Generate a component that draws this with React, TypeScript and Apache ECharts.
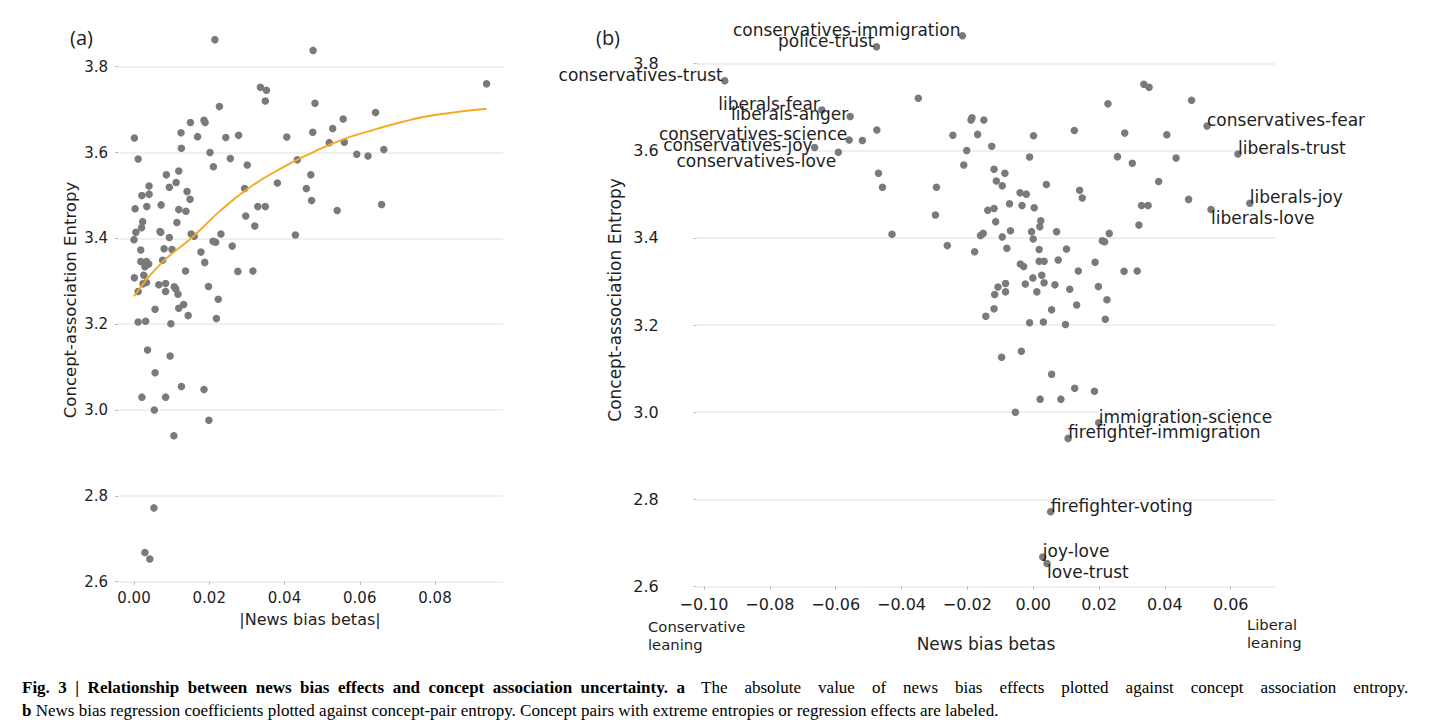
import React, { useEffect, useRef } from 'react';
import * as echarts from 'echarts';

// ---------- data ----------
// Labeled concept pairs (panel b), news bias beta and concept-association entropy
const labeledPairs = [
  'conservatives-immigration', 'police-trust', 'conservatives-trust', 'liberals-fear',
  'liberals-anger', 'conservatives-science', 'conservatives-joy', 'conservatives-love',
  'conservatives-fear', 'liberals-trust', 'liberals-joy', 'liberals-love',
  'immigration-science', 'firefighter-immigration', 'firefighter-voting', 'joy-love', 'love-trust',
];
const labeledBetas = [
  -0.0215, -0.0476, -0.0937, -0.0642, -0.0556, -0.0559, -0.0664, -0.0592,
  0.0528, 0.0622, 0.0658, 0.054, 0.0199, 0.0106, 0.0053, 0.0029, 0.0042,
];
const labeledEntropy = [
  3.863, 3.838, 3.76, 3.693, 3.678, 3.624, 3.607, 3.596,
  3.656, 3.592, 3.479, 3.465, 2.976, 2.94, 2.772, 2.668, 2.653,
];

// Unlabeled concept pairs
const otherBetas = [
  -0.0349, -0.0189, -0.0186, -0.015, -0.0475, -0.0244, -0.0169, 0.0001, 0.0125, 0.0227,
  0.0278, -0.0202, -0.0126, -0.0011, 0.0256, 0.0301, -0.0211, -0.047, -0.0119, -0.0086,
  -0.0458, -0.0294, -0.0112, -0.0094, 0.004, 0.0141, 0.0149, -0.004, -0.0021, -0.0072,
  -0.0034, 0.0003, -0.0138, -0.0119, -0.0297, -0.0114, 0.0023, 0.002, -0.0429, -0.016,
  -0.0152, -0.0069, -0.0005, -0.0094, 0.0, 0.0071, 0.0231, 0.021, 0.0217, -0.0261,
  -0.0178, -0.008, 0.0018, 0.0101, 0.0018, 0.0033, 0.0076, -0.0039, -0.0029, 0.0188,
  0.0137, 0.0276, 0.0316, 0.0026, -0.0001, 0.0033, -0.0024, 0.0066, -0.0084, -0.0107,
  -0.0084, -0.0117, 0.0011, 0.0111, 0.0198, 0.0224, 0.0132, 0.0056, -0.0119, -0.0144,
  -0.0011, 0.0031, 0.0098, 0.0219, -0.0096, -0.0036, 0.0056, 0.0126, 0.0186, 0.0021,
  0.0084, -0.0054, 0.0336, 0.0352, 0.0481, 0.0406, 0.0434, 0.0381, 0.0329, 0.0349,
  0.0472, 0.0321, -0.0519,
];
const otherEntropy = [
  3.72, 3.67, 3.675, 3.67, 3.647, 3.635, 3.637, 3.634, 3.646, 3.707,
  3.64, 3.6, 3.61, 3.585, 3.586, 3.571, 3.567, 3.548, 3.557, 3.548,
  3.516, 3.516, 3.53, 3.519, 3.522, 3.509, 3.491, 3.503, 3.5, 3.478,
  3.474, 3.469, 3.463, 3.467, 3.452, 3.437, 3.439, 3.425, 3.408, 3.405,
  3.41, 3.416, 3.414, 3.402, 3.397, 3.414, 3.41, 3.393, 3.391, 3.382,
  3.368, 3.376, 3.373, 3.374, 3.346, 3.346, 3.349, 3.34, 3.334, 3.344,
  3.324, 3.323, 3.324, 3.314, 3.308, 3.297, 3.294, 3.292, 3.295, 3.287,
  3.276, 3.27, 3.276, 3.282, 3.288, 3.258, 3.246, 3.235, 3.237, 3.22,
  3.205, 3.207, 3.201, 3.213, 3.126, 3.14, 3.087, 3.055, 3.048, 3.03,
  3.03, 3.0, 3.752, 3.745, 3.715, 3.636, 3.583, 3.529, 3.474, 3.474,
  3.488, 3.429, 3.623,
];

// Fitted curve in panel a
const fitX = [0.0, 0.0069, 0.0158, 0.0229, 0.0308, 0.0397, 0.0477, 0.0547, 0.0618, 0.0707, 0.0795, 0.0937];
const fitY = [3.265, 3.339, 3.405, 3.464, 3.519, 3.566, 3.601, 3.628, 3.648, 3.67, 3.687, 3.702];

// Tick labels
const absTicks = [0.0, 0.02, 0.04, 0.06, 0.08];
const betaTicks = [-0.1, -0.08, -0.06, -0.04, -0.02, 0.0, 0.02, 0.04, 0.06];

// Caption
const captionBold1 = 'Fig. 3 | Relationship between news bias effects and concept association uncertainty. a';
const captionText1 = 'The absolute value of news bias effects plotted against concept association entropy.';
const captionBold2 = 'b';
const captionText2 = 'News bias regression coefficients plotted against concept-pair entropy. Concept pairs with extreme entropies or regression effects are labeled.';

// ---------- styling ----------
const FONT = "'DejaVu Sans', sans-serif";
const SERIF = "'Liberation Serif', 'Times New Roman', serif";
const DOT = '#7a7a7a';
const GRIDLINE = '#ebebeb';
const TXT = '#1e1e1e';

// label placement: side = which side of the dot the text sits on; v = text above (bottom) or below (top)
const labelPlacement: Record<string, { side: 'L' | 'R'; v: 'bottom' | 'top'; dy: number }> = {
  'conservatives-immigration': { side: 'L', v: 'bottom', dy: 2.5 },
  'police-trust': { side: 'L', v: 'bottom', dy: 2.5 },
  'conservatives-trust': { side: 'L', v: 'bottom', dy: 2.5 },
  'liberals-fear': { side: 'L', v: 'bottom', dy: 2.5 },
  'liberals-anger': { side: 'L', v: 'bottom', dy: 6 },
  'conservatives-science': { side: 'L', v: 'bottom', dy: 2.5 },
  'conservatives-joy': { side: 'L', v: 'bottom', dy: 6 },
  'conservatives-love': { side: 'L', v: 'top', dy: 0 },
  'conservatives-fear': { side: 'R', v: 'bottom', dy: 2.5 },
  'liberals-trust': { side: 'R', v: 'bottom', dy: 2.5 },
  'liberals-joy': { side: 'R', v: 'bottom', dy: 2.5 },
  'liberals-love': { side: 'R', v: 'top', dy: 0 },
  'immigration-science': { side: 'R', v: 'bottom', dy: 2.5 },
  'firefighter-immigration': { side: 'R', v: 'bottom', dy: 2.5 },
  'firefighter-voting': { side: 'R', v: 'bottom', dy: 2.5 },
  'joy-love': { side: 'R', v: 'bottom', dy: 2.5 },
  'love-trust': { side: 'R', v: 'top', dy: 0 },
};

function fmt2(v: number): string {
  const r = Math.round(v * 100) / 100;
  if (Math.abs(v * 50 - Math.round(v * 50)) > 1e-6) return '';
  return (r < 0 ? '\u2212' : '') + Math.abs(r).toFixed(2);
}

// emulate the justified first caption line by widening word gaps
const widen = (s: string, n: number) => s.split(' ').join(' ' + '\u00a0'.repeat(n));

function buildOption(): any {
  const allBetas = [...otherBetas, ...labeledBetas];
  const allEntropy = [...otherEntropy, ...labeledEntropy];

  const panelAData = allBetas.map((b, i) => [Math.abs(b), allEntropy[i]]);
  const panelBOther = otherBetas.map((b, i) => [b, otherEntropy[i]]);
  const panelBLabeled = labeledPairs.map((name, i) => {
    const p = labelPlacement[name];
    return {
      name,
      value: [labeledBetas[i], labeledEntropy[i]],
      label: {
        show: true,
        position: 'inside',
        formatter: name,
        align: p.side === 'L' ? 'right' : 'left',
        verticalAlign: p.v,
        offset: [p.side === 'L' ? -2 : 0, p.dy],
        color: TXT,
        fontSize: 17,
        fontFamily: FONT,
        textBorderWidth: 0,
      },
    };
  });

  const yAxisBase = (gridIndex: number, fontSize: number, margin: number) => ({
    type: 'value',
    gridIndex,
    min: 2.6,
    max: 3.8,
    interval: 0.2,
    axisLine: { show: false, onZero: false },
    axisTick: { show: true, length: 3, lineStyle: { color: '#b5b5b5', width: 1 } },
    splitLine: { show: true, lineStyle: { color: GRIDLINE, width: 1.6 } },
    axisLabel: {
      formatter: (v: number) => v.toFixed(1),
      fontSize,
      fontFamily: FONT,
      color: TXT,
      margin,
    },
  });

  const text = (x: number, y: number, t: string, fontSize: number, extra: any = {}) => ({
    type: 'text',
    x,
    y,
    ...(extra.rotation !== undefined ? { rotation: extra.rotation } : {}),
    ...(extra.scaleX !== undefined ? { scaleX: extra.scaleX } : {}),
    style: {
      text: t,
      fontSize,
      fontFamily: extra.fontFamily || FONT,
      fontWeight: extra.fontWeight || 'normal',
      fill: extra.fill || TXT,
      align: extra.align || 'center',
      textAlign: extra.align || 'center',
      verticalAlign: extra.verticalAlign || 'middle',
      textVerticalAlign: extra.verticalAlign || 'middle',
      lineHeight: extra.lineHeight,
      rich: extra.rich,
    },
  });

  const capRich = { b: { fontWeight: 'bold', fontFamily: SERIF, fontSize: 17, fill: '#000' } };

  return {
    animation: false,
    backgroundColor: '#ffffff',
    grid: [
      { left: 118, top: 66.7, width: 385, height: 515, containLabel: false, outerBoundsMode: 'none' },
      { left: 696.7, top: 63.3, width: 578.3, height: 523.4, containLabel: false, outerBoundsMode: 'none' },
    ],
    xAxis: [
      {
        type: 'value',
        gridIndex: 0,
        min: -0.00425,
        max: 0.09807,
        axisLine: { show: false, onZero: false },
        splitLine: { show: false },
        axisTick: { show: true, length: 3, customValues: absTicks, lineStyle: { color: '#b5b5b5', width: 1 } },
        axisLabel: { customValues: absTicks, formatter: fmt2, fontSize: 15, fontFamily: FONT, color: TXT, margin: 9 },
      },
      {
        type: 'value',
        gridIndex: 1,
        min: -0.10222,
        max: 0.07345,
        axisLine: { show: false, onZero: false },
        splitLine: { show: false },
        axisTick: { show: true, length: 3, customValues: betaTicks, lineStyle: { color: '#b5b5b5', width: 1 } },
        axisLabel: { customValues: betaTicks, formatter: fmt2, fontSize: 16, fontFamily: FONT, color: TXT, margin: 10 },
      },
    ],
    yAxis: [yAxisBase(0, 15, 10), yAxisBase(1, 16, 38)],
    series: [
      {
        type: 'scatter',
        xAxisIndex: 0,
        yAxisIndex: 0,
        clip: false,
        symbolSize: 7.5,
        itemStyle: { color: DOT, opacity: 1 },
        data: panelAData,
        silent: true,
      },
      {
        type: 'line',
        xAxisIndex: 0,
        yAxisIndex: 0,
        smooth: true,
        showSymbol: false,
        symbol: 'none',
        clip: false,
        lineStyle: { color: '#f6a821', width: 1.9 },
        data: fitX.map((x, i) => [x, fitY[i]]),
        silent: true,
        z: 3,
      },
      {
        type: 'scatter',
        xAxisIndex: 1,
        yAxisIndex: 1,
        clip: false,
        symbolSize: 7.5,
        itemStyle: { color: DOT, opacity: 1 },
        data: panelBOther,
        silent: true,
      },
      {
        type: 'scatter',
        xAxisIndex: 1,
        yAxisIndex: 1,
        clip: false,
        symbolSize: 7.5,
        itemStyle: { color: DOT, opacity: 1 },
        data: panelBLabeled,
        silent: true,
      },
    ],
    graphic: [
      text(81.5, 37.5, '(a)', 20, { fontFamily: "'Open Sans', sans-serif" }),
      text(608, 37.5, '(b)', 20, { fontFamily: "'Open Sans', sans-serif" }),
      text(70, 300, 'Concept-association Entropy', 16.5, { rotation: Math.PI / 2 }),
      text(615, 300, 'Concept-association Entropy', 17, { rotation: Math.PI / 2 }),
      text(310, 619, '|News bias betas|', 16),
      text(986, 644, 'News bias betas', 17),
      text(648, 617, 'Conservative\nleaning', 14.8, { align: 'left', verticalAlign: 'top', lineHeight: 18 }),
      text(1247, 615, 'Liberal\nleaning', 14.8, { align: 'left', verticalAlign: 'top', lineHeight: 18 }),
      text(22, 687, widen(captionBold1, 1), 17, {
        align: 'left', fontFamily: SERIF, fontWeight: 'bold', fill: '#000',
      }),
      text(701, 687, widen(captionText1, 3), 17, { align: 'left', fontFamily: SERIF, fill: '#000' }),
      text(22, 710, '{b|' + captionBold2 + '} ' + captionText2, 17, {
        align: 'left', fontFamily: SERIF, fill: '#000', rich: capRich,
      }),
    ],
  };
}

export default function App() {
  const ref = useRef<HTMLDivElement>(null);
  useEffect(() => {
    document.body.style.margin = '0';
    const chart = echarts.init(ref.current as HTMLDivElement, null, { renderer: 'svg' });
    chart.setOption(buildOption());
    return () => chart.dispose();
  }, []);
  return (
    <div
      ref={ref}
      style={{ position: 'fixed', left: 0, top: 0, width: 1454, height: 726, background: '#fff' }}
    />
  );
}
